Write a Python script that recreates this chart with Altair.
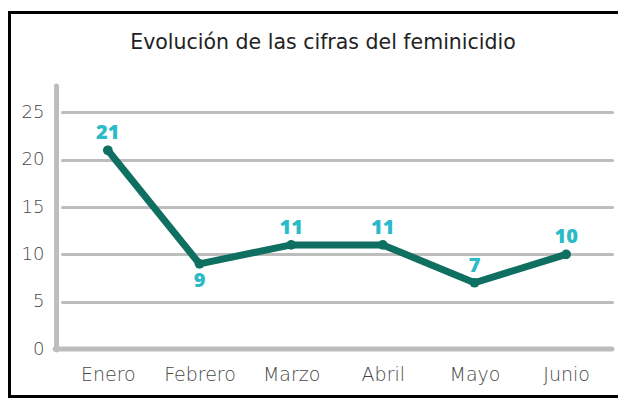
import altair as alt
import pandas as pd

months = ["Enero", "Febrero", "Marzo", "Abril", "Mayo", "Junio"]
values = [21, 9, 11, 11, 7, 10]
label_pos = ["above", "below", "above", "above", "above", "above"]
y_ticks = [0, 5, 10, 15, 20, 25]
title_text = "Evolución de las cifras del feminicidio"

df = pd.DataFrame({"mes": months, "valor": values, "pos": label_pos})

W, H = 550, 265
FONT = "DejaVu Sans"
LFONT = "Open Sans"
GREY = "#bcbdbc"

x = alt.X("mes:N", sort=months, scale=alt.Scale(type="point", padding=0.5),
          axis=alt.Axis(title=None, domain=False, ticks=False, tickSize=0, labelAngle=0,
                        labelPadding=16, labelFont=FONT, labelFontSize=19,
                        labelFontWeight=300, labelColor="#474747", grid=False))
y = alt.Y("valor:Q", scale=alt.Scale(domain=[0, 28], nice=False, zero=True),
          axis=alt.Axis(title=None, values=y_ticks, domain=False, ticks=False, tickSize=0,
                        labelPadding=18, labelFont=FONT, labelFontSize=18,
                        labelFontWeight=300, labelColor="#474747",
                        grid=True, gridColor=GREY, gridWidth=3, gridCap="round"))

base = alt.Chart(df)

line = base.mark_line(color="#0f6f60", strokeWidth=7, strokeCap="round",
                      strokeJoin="round").encode(x=x, y=y)
dots = base.mark_circle(color="#0f6f60", size=95, opacity=1).encode(x=x, y=y)

lab_above = base.transform_filter(alt.datum.pos == "above").mark_text(
    color="#2bbac8", font=LFONT, fontSize=20, fontWeight=800, baseline="bottom", dy=-7
).encode(x=x, y=y, text="valor:Q")
lab_below = base.transform_filter(alt.datum.pos == "below").mark_text(
    color="#2bbac8", font=LFONT, fontSize=20, fontWeight=800, baseline="top", dy=7
).encode(x=x, y=y, text="valor:Q")

one = alt.Chart(pd.DataFrame({"v": [0]}))
ybar = one.mark_rule(color=GREY, strokeWidth=5, strokeCap="round").encode(
    x=alt.value(-5.5), y=alt.value(2), y2=alt.value(H + 1))
xbar = one.mark_rule(color=GREY, strokeWidth=5, strokeCap="round").encode(
    y=alt.datum(0, type="quantitative", scale=alt.Scale(domain=[0, 28])), x=alt.value(-7), x2=alt.value(W))
# frame: top, bottom and left sides (the right side lies outside the picture)
frame_top = one.mark_rule(color="black", strokeWidth=3).encode(
    x=alt.value(-54), x2=alt.value(W + 6), y=alt.value(-71.5))
frame_bottom = one.mark_rule(color="black", strokeWidth=3).encode(
    x=alt.value(-54), x2=alt.value(W + 6), y=alt.value(H + 47.5))
frame_left = one.mark_rule(color="black", strokeWidth=3).encode(
    x=alt.value(-52.5), y=alt.value(-73), y2=alt.value(H + 49))

chart = alt.layer(frame_top, frame_bottom, frame_left, ybar, line, xbar, dots,
                  lab_above, lab_below).properties(
    width=W, height=H,
    padding={"left": 54, "top": 76, "right": 6, "bottom": 49},
    autosize=alt.AutoSizeParams(type="none"),
    title=alt.TitleParams(title_text, font=FONT, fontSize=20.5, fontWeight=400,
                          color="#222222", anchor="middle", offset=-44, dx=-14),
).configure_view(stroke=None, fill=None)

chart.save("out.html", embed_options={"renderer": "svg", "actions": False})
